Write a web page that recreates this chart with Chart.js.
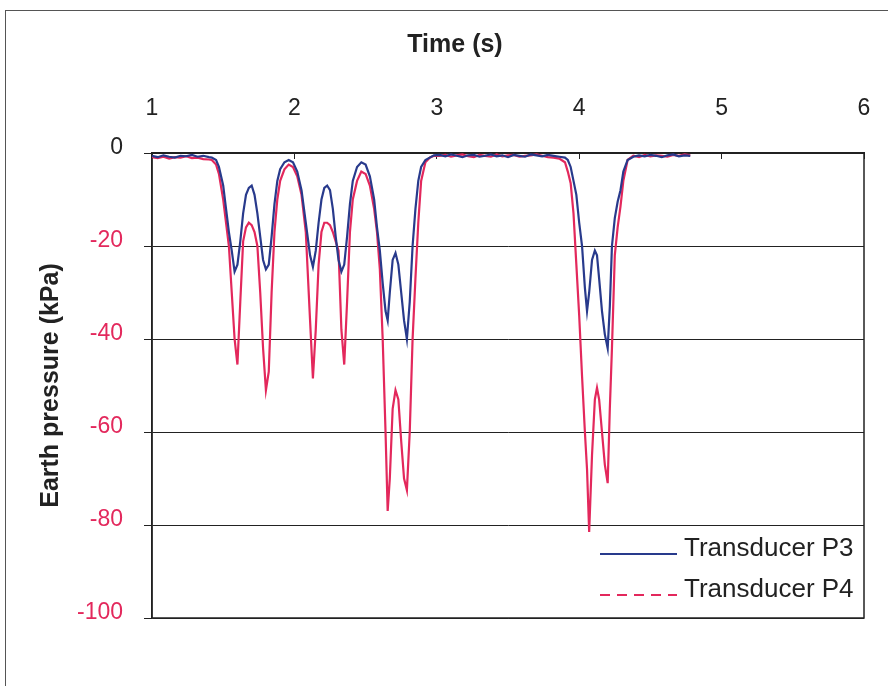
<!DOCTYPE html>
<html>
<head>
<meta charset="utf-8">
<script src="https://cdn.jsdelivr.net/npm/chart.js@4.4.1/dist/chart.umd.min.js"></script>
<style>
  body { margin: 0; background: #fff; }
  #wrap { position: relative; width: 892px; height: 686px; overflow: hidden; }
  #frame { position: absolute; left: 5px; top: 10px; width: 882px; height: 700px;
           border-left: 1px solid #555; border-top: 1px solid #555; }
  canvas { position: absolute; left: 0; top: 0; }
</style>
</head>
<body>
<div id="wrap">
  <div id="frame"></div>
  <canvas id="chart" width="892" height="686"></canvas>
</div>
<script>
// time in seconds
const time = [
  1.00, 1.04, 1.08, 1.12, 1.16, 1.20, 1.24, 1.28, 1.32, 1.36, 1.40,
  1.42, 1.45, 1.47, 1.50, 1.52, 1.54, 1.56, 1.58, 1.60, 1.62, 1.64, 1.66, 1.68, 1.70,
  1.72, 1.74, 1.76, 1.78, 1.80, 1.82, 1.84, 1.86, 1.88, 1.90, 1.93, 1.96, 1.99,
  2.02, 2.05, 2.08, 2.11, 2.13, 2.15, 2.17, 2.19, 2.21, 2.23, 2.25,
  2.27, 2.29, 2.31, 2.33, 2.35, 2.37, 2.39, 2.41, 2.44, 2.47, 2.50,
  2.53, 2.56, 2.58, 2.60, 2.62, 2.64, 2.655, 2.67, 2.69, 2.71, 2.73,
  2.75, 2.77, 2.79, 2.81, 2.83, 2.85, 2.87, 2.89, 2.92, 2.95, 2.98,
  3.02, 3.06, 3.10, 3.14, 3.18, 3.22, 3.26, 3.30, 3.34, 3.38, 3.42,
  3.46, 3.50, 3.54, 3.58, 3.62, 3.66, 3.70, 3.74, 3.78, 3.82, 3.86,
  3.90, 3.92, 3.94, 3.96, 3.98, 4.00, 4.02, 4.04, 4.055, 4.07, 4.09, 4.11,
  4.125, 4.14, 4.16, 4.18, 4.20, 4.215, 4.23, 4.25, 4.27, 4.29, 4.31, 4.34,
  4.38, 4.42, 4.46, 4.50, 4.54, 4.58, 4.62, 4.66, 4.70, 4.74, 4.78
];

// Transducer P3 (kPa)
const p3 = [
  -0.6, -0.9, -0.5, -0.8, -1.0, -0.6, -0.7, -0.4, -0.8, -0.6, -0.9,
  -1.0, -1.5, -3, -7, -12, -17, -21, -25.5, -24, -19, -13, -9, -7.5, -7,
  -9, -13, -18, -23, -25, -24, -18, -11, -6, -3.5, -2, -1.5, -2,
  -4, -8, -15, -22, -24.5, -21, -15, -10, -7.5, -7, -8,
  -12, -18, -23, -25.5, -24, -18, -11, -6, -3, -2, -2.5,
  -5, -10, -16, -21, -28, -34, -36, -30, -23, -21.5, -24,
  -30, -36, -40, -32, -20, -12, -6, -3, -1.5, -1, -0.5,
  -0.4, -0.7, -0.3, -0.6, -0.9, -0.5, -0.4, -0.8, -0.6, -0.3, -0.7,
  -0.5, -0.9, -0.4, -0.6, -0.8, -0.3, -0.5, -0.7, -0.4, -0.6, -0.8,
  -1, -1.5, -3, -6, -9, -15, -20, -29, -34, -30, -23, -21,
  -22, -27, -34, -39, -42, -33, -20, -14, -10.5, -8, -4, -1.5,
  -0.8, -0.5, -0.7, -0.4, -0.6, -0.9, -0.5, -0.3, -0.7, -0.5, -0.6
];

// Transducer P4 (kPa)
const p4 = [
  -0.9, -1.1, -0.8, -1.2, -0.9, -1.0, -0.7, -1.1, -1.0, -1.3, -1.4,
  -1.5, -2.5, -4.5, -10, -15, -20, -30, -40, -45.5, -32, -19, -16, -15, -15.5,
  -17, -20, -30, -42, -51, -47, -30, -17, -10, -6, -3.5, -2.5, -3,
  -5, -9, -17, -36, -48.5, -38, -24, -17, -15, -15, -15.5,
  -17, -19, -21, -38, -45.5, -32, -17, -10, -6, -4, -4.5,
  -7, -12, -17, -25, -40, -60, -77, -70, -55, -51, -53,
  -62, -70, -72.5, -60, -40, -27, -15, -6, -2, -1, -0.6,
  -0.6, -0.4, -0.8, -0.5, -0.3, -0.7, -0.9, -0.4, -0.6, -0.8, -0.3,
  -0.7, -0.5, -0.4, -0.8, -0.6, -0.5, -0.3, -0.6, -0.9, -1.0, -1.2,
  -2, -4, -6.5, -13, -24, -35, -48, -60, -68, -81.5, -65, -53,
  -50.5, -53, -60, -67, -71, -55, -42, -22, -16, -11.5, -6, -1.5,
  -0.6, -0.9, -0.4, -0.7, -0.5, -0.6, -0.8, -0.4, -0.6, -0.3, -0.5
];

const seriesNames = ["Transducer P3", "Transducer P4"];
const seriesColors = ["#283a8c", "#e3285c"];
const timeTicks = [1, 2, 3, 4, 5, 6];
const pressureTicks = [0, -20, -40, -60, -80, -100];

const FONT = "'Liberation Sans', Arial, sans-serif";

// plot box + legend drawn in the lower right corner of the plot
const plotExtras = {
  id: "plotExtras",
  beforeDatasetsDraw(chart) {
    const { ctx, chartArea: a } = chart;
    ctx.save();
    ctx.strokeStyle = "#222";
    ctx.lineWidth = 1.5;
    ctx.strokeRect(a.left, a.top, a.right - a.left, a.bottom - a.top);
    ctx.restore();
  },
  afterDraw(chart) {
    const { ctx, chartArea: a } = chart;
    ctx.save();
    ctx.font = "26px " + FONT;
    ctx.textBaseline = "alphabetic";
    chart.data.datasets.forEach((ds, i) => {
      const y = a.bottom - 64 + i * 41;
      ctx.strokeStyle = ds.borderColor;
      ctx.lineWidth = 2;
      ctx.setLineDash(i === 1 ? [10, 7] : []);
      ctx.beginPath();
      ctx.moveTo(a.right - 264, y);
      ctx.lineTo(a.right - 187, y);
      ctx.stroke();
      ctx.setLineDash([]);
      ctx.fillStyle = "#222";
      ctx.fillText(ds.label, a.right - 180, y + 2);
    });
    ctx.restore();
  },
};

const ctx = document.getElementById("chart");

new Chart(ctx, {
  type: "line",
  data: {
    datasets: [
      {
        label: seriesNames[0],
        data: time.map((t, i) => ({ x: t, y: p3[i] })),
        borderColor: seriesColors[0],
        borderWidth: 2.2,
        pointRadius: 0,
        tension: 0,
      },
      {
        label: seriesNames[1],
        data: time.map((t, i) => ({ x: t, y: p4[i] })),
        borderColor: seriesColors[1],
        borderWidth: 2.2,
        pointRadius: 0,
        tension: 0,
      },
    ],
  },
  options: {
    responsive: false,
    animation: false,
    devicePixelRatio: 1,
    layout: {
      padding: { left: 46, right: 28, top: 0, bottom: 68 },
    },
    plugins: {
      legend: { display: false },
      tooltip: { enabled: false },
      title: {
        display: true,
        text: "Time (s)",
        color: "#222",
        font: { family: FONT, size: 25, weight: "bold" },
        padding: { top: 30, bottom: 8 },
      },
    },
    scales: {
      x: {
        type: "linear",
        position: "top",
        min: 1,
        max: 6,
        afterBuildTicks: (scale) => {
          scale.ticks = timeTicks.map((v) => ({ value: v }));
        },
        afterFit: (scale) => {
          scale.height = 85;
          scale.paddingLeft = 0;
          scale.paddingRight = 0;
        },
        ticks: {
          color: "#222",
          padding: 37,
          font: { family: FONT, size: 23 },
        },
        grid: {
          drawOnChartArea: false,
          drawTicks: true,
          tickLength: -6,
          color: "#222",
        },
        border: { color: "#222", width: 1.5 },
      },
      y: {
        min: -100,
        max: 0,
        afterBuildTicks: (scale) => {
          scale.ticks = pressureTicks.map((v) => ({ value: v }));
        },
        afterFit: (scale) => {
          scale.width = 106;
        },
        ticks: {
          padding: 21,
          labelOffset: -5,
          font: { family: FONT, size: 23 },
          color: (c) => (c.tick.value === 0 ? "#222" : "#e3285c"),
        },
        grid: {
          color: "#222",
          lineWidth: 1,
          tickLength: 8,
        },
        border: { color: "#222", width: 1.5 },
        title: {
          display: true,
          text: "Earth pressure (kPa)",
          color: "#222",
          font: { family: FONT, size: 25, weight: "bold" },
          padding: { top: -10, bottom: 0 },
        },
      },
    },
  },
  plugins: [plotExtras],
});
</script>
</body>
</html>
